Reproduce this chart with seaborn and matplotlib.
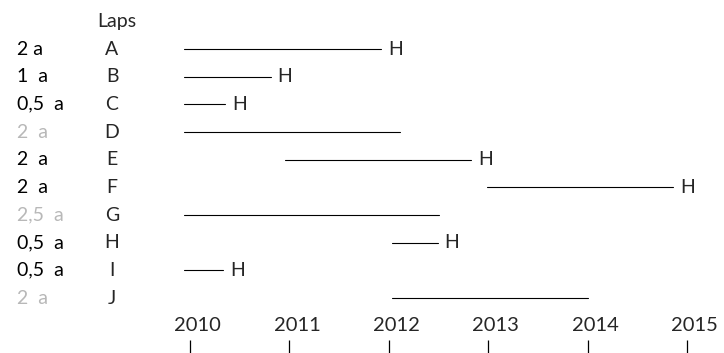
import pandas as pd
import matplotlib.pyplot as plt
import matplotlib.transforms as mtransforms
import seaborn as sns

# Tasks
tasks = ['A', 'B', 'C', 'D', 'E', 'F', 'G', 'H', 'I', 'J']
durations = ['2 a', '1  a', '0,5  a', '2  a', '2  a', '2  a', '2,5  a', '0,5  a', '0,5  a', '2  a']
faded = [False, False, False, True, False, False, True, False, False, True]
starts = [2009.94, 2009.94, 2009.94, 2009.94, 2010.96, 2012.99, 2009.94, 2012.03, 2009.94, 2012.03]
ends = [2011.92, 2010.81, 2010.35, 2012.11, 2012.83, 2014.86, 2012.50, 2012.49, 2010.33, 2014.00]
has_h = [True, True, True, False, True, True, False, True, True, False]
years = [2010, 2011, 2012, 2013, 2014, 2015]

sns.set_style("white")
plt.rcParams['font.family'] = ['Lato', 'DejaVu Sans']

# long table: one row per segment end
rows = []
for i, t in enumerate(tasks):
    rows.append({'task': t, 'row': i, 'year': starts[i]})
    rows.append({'task': t, 'row': i, 'year': ends[i]})
df = pd.DataFrame(rows)

fig = plt.figure(figsize=(7.24, 3.53), dpi=100)
ax = fig.add_axes([0, 0, 1, 1])

sns.lineplot(data=df, x='year', y='row', units='task', estimator=None,
             sort=False, color='black', linewidth=0.8, ax=ax, legend=False)

ax.set_xlim(2008.0885, 2015.372)
ax.set_ylim(10.987, -1.771)
ax.axis('off')

gray = '#b8b8b8'
left = ax.get_yaxis_transform()  # x in axes coords, y in data
ax.text(0.1616, -1, 'Laps', transform=left, ha='center', va='center', fontsize=14)
for i, t in enumerate(tasks):
    ax.text(0.1547, i, t, transform=left, ha='center', va='center', fontsize=14)
    ax.text(0.0235, i, durations[i], transform=left, ha='left', va='center',
            fontsize=14, color=gray if faded[i] else 'black')
    if has_h[i]:
        shift = ax.transData + mtransforms.ScaledTranslation(0.07, 0, fig.dpi_scale_trans)
        ax.text(ends[i], i, 'H', transform=shift, ha='left', va='center', fontsize=14)

# year labels sit a bit right of their tick marks
lab_shift = ax.transData + mtransforms.ScaledTranslation(0.075, 0, fig.dpi_scale_trans)
for y in years:
    ax.text(y, 10, str(y), transform=lab_shift, ha='center', va='center', fontsize=14.5)
ax.vlines(years, 10.5, 11, color='black', linewidth=0.9)

plt.savefig("out.png", dpi=100)
